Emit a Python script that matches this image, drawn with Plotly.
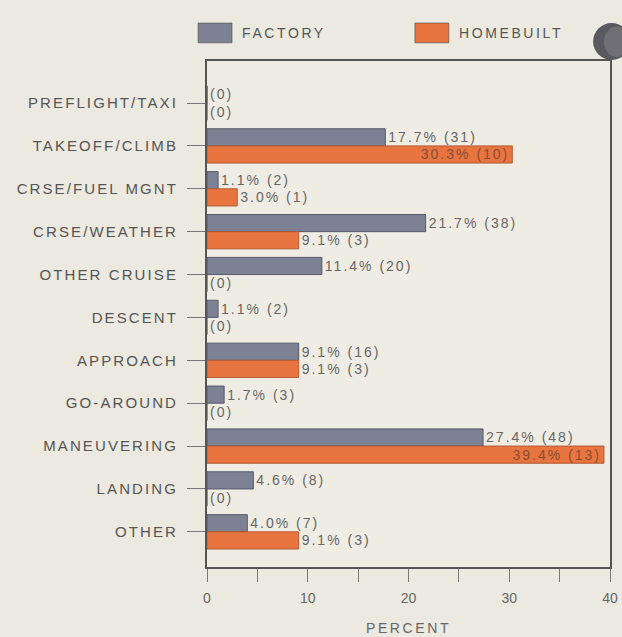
import plotly.graph_objects as go

# Accident phase breakdown, factory vs homebuilt aircraft
phases = ["PREFLIGHT/TAXI", "TAKEOFF/CLIMB", "CRSE/FUEL MGNT", "CRSE/WEATHER",
          "OTHER CRUISE", "DESCENT", "APPROACH", "GO-AROUND", "MANEUVERING",
          "LANDING", "OTHER"]
factory_pct = [0, 17.7, 1.1, 21.7, 11.4, 1.1, 9.1, 1.7, 27.4, 4.6, 4.0]
factory_n = [0, 31, 2, 38, 20, 2, 16, 3, 48, 8, 7]
homebuilt_pct = [0, 30.3, 3.0, 9.1, 0, 0, 9.1, 0, 39.4, 0, 9.1]
homebuilt_n = [0, 10, 1, 3, 0, 0, 3, 0, 13, 0, 3]
x_ticks = [0, 5, 10, 15, 20, 25, 30, 35, 40]
x_tick_text = ["0", "", "10", "", "20", "", "30", "", "40"]

FACTORY_COLOR = "#7c8194"
HOMEBUILT_COLOR = "#e8743f"
BG = "#ece9e0"
FONT = "Liberation Sans, Arial, sans-serif"


def spaced(s, px):
    return f'<span style="letter-spacing:{px}px">{s}</span>'


def label(p, n):
    return spaced("(0)" if n == 0 else f"{p:.1f}% ({n})", 2.0)


factory_text = [label(p, n) for p, n in zip(factory_pct, factory_n)]
homebuilt_text = [label(p, n) for p, n in zip(homebuilt_pct, homebuilt_n)]
# Long homebuilt bars carry their label inside the bar end
homebuilt_pos = ["inside" if p > 25 else "outside" for p in homebuilt_pct]

fig = go.Figure()
fig.add_trace(go.Bar(
    y=phases, x=factory_pct, orientation="h", name="FACTORY",
    marker=dict(color=FACTORY_COLOR, line=dict(color="#55596a", width=1)),
    text=factory_text, textposition="outside", constraintext="none",
    textfont=dict(family=FONT, size=14, color="#666666"),
    cliponaxis=False,
))
fig.add_trace(go.Bar(
    y=phases, x=homebuilt_pct, orientation="h", name="HOMEBUILT",
    marker=dict(color=HOMEBUILT_COLOR, line=dict(color="#b35a34", width=1)),
    text=homebuilt_text, textposition=homebuilt_pos, insidetextanchor="end",
    constraintext="none",
    outsidetextfont=dict(family=FONT, size=14, color="#666666"),
    insidetextfont=dict(family=FONT, size=14, color="#8a4e36"),
    cliponaxis=False,
))

fig.update_layout(
    width=622, height=637,
    margin=dict(l=207, r=12, t=61, b=70, autoexpand=False),
    paper_bgcolor=BG, plot_bgcolor="#efece4",
    barmode="group", bargap=0.2, bargroupgap=0,
    showlegend=False,
    font=dict(family=FONT, color="#555555"),
)

fig.update_yaxes(
    type="category", automargin=False,
    categoryorder="array", categoryarray=phases,
    range=[10.82, -0.98],
    tickvals=phases,
    ticktext=[spaced(p, 2.1) for p in phases],
    tickfont=dict(family=FONT, size=15, color="#555555"),
    ticks="outside", ticklen=18, tickwidth=1, tickcolor="#777777",
    ticklabelstandoff=6,
    showline=True, linewidth=2, linecolor="#555555", mirror=True,
    showgrid=False, zeroline=False,
)
fig.update_xaxes(
    range=[0, 40], automargin=False,
    tickvals=x_ticks, ticktext=x_tick_text,
    tickfont=dict(family=FONT, size=14, color="#666666"),
    ticks="outside", ticklen=13, tickwidth=1, tickcolor="#777777",
    ticklabelstandoff=4,
    showline=True, linewidth=2, linecolor="#555555", mirror=True,
    showgrid=False, zeroline=False,
    title=dict(text=spaced("PERCENT", 2.6),
               font=dict(family=FONT, size=14, color="#666666"), standoff=18),
)

# Legend drawn as swatches and labels above the plot
legend_items = [("FACTORY", FACTORY_COLOR, -0.022), ("HOMEBUILT", HOMEBUILT_COLOR, 0.516)]
for name, color, x0 in legend_items:
    fig.add_shape(type="rect", xref="paper", yref="paper",
                  x0=x0, x1=x0 + 0.084, y0=1.036, y1=1.075,
                  fillcolor=color, line=dict(color="rgba(70,70,70,0.6)", width=1))
    fig.add_annotation(xref="paper", yref="paper", x=x0 + 0.104, y=1.056,
                       xanchor="left", yanchor="middle", showarrow=False,
                       text=spaced(name, 2.6),
                       font=dict(family=FONT, size=14, color="#555555"))

# Decorative sphere at the top right corner
fig.add_shape(type="circle", xref="paper", yref="paper",
              x0=0.958, x1=1.050, y0=1.002, y1=1.075,
              fillcolor="#5a595f", line=dict(width=0), layer="above")
fig.add_shape(type="circle", xref="paper", yref="paper",
              x0=0.985, x1=1.048, y0=1.008, y1=1.068,
              fillcolor="#9a99a0", line=dict(width=0), opacity=0.35, layer="above")

fig.write_html("out.html")
